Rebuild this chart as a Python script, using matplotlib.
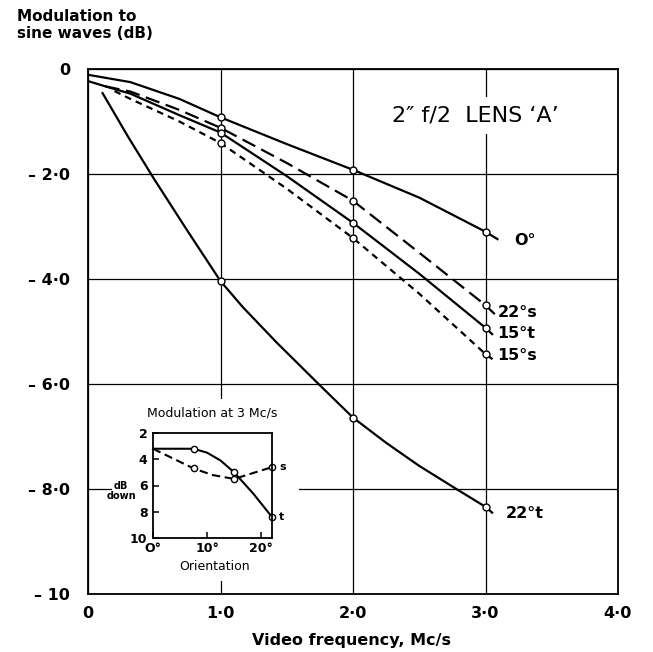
import matplotlib
matplotlib.use("Agg")
import matplotlib.pyplot as plt
from matplotlib.patches import Rectangle

# main chart: curves (video frequency Mc/s, modulation dB)
freq_0 = [0.0, 0.32, 0.69, 1.0, 1.5, 2.0, 2.5, 3.0, 3.09]
db_0 = [-0.11, -0.25, -0.57, -0.92, -1.43, -1.92, -2.45, -3.10, -3.24]

freq_22s = [0.13, 0.32, 0.69, 1.0, 1.5, 2.0, 2.5, 3.0, 3.07]
db_22s = [-0.33, -0.43, -0.78, -1.12, -1.79, -2.51, -3.50, -4.50, -4.67]

freq_15t = [0.0, 0.13, 0.32, 0.69, 1.0, 1.5, 2.0, 2.5, 3.0, 3.05]
db_15t = [-0.23, -0.33, -0.47, -0.88, -1.21, -2.04, -2.93, -3.90, -4.93, -5.05]

freq_15s = [0.2, 0.32, 0.69, 1.0, 1.5, 2.0, 2.5, 3.0, 3.06]
db_15s = [-0.42, -0.57, -1.00, -1.41, -2.28, -3.22, -4.28, -5.43, -5.54]

freq_22t = [0.11, 0.3, 0.5, 0.75, 1.0, 1.17, 1.42, 1.74, 2.0, 2.25, 2.5, 2.78,
            3.0, 3.05]
db_22t = [-0.46, -1.28, -2.1, -3.08, -4.04, -4.54, -5.2, -6.0, -6.64, -7.12,
          -7.56, -8.0, -8.34, -8.45]

measured_freq = [1.0, 2.0, 3.0]

x_ticks = [0, 1, 2, 3, 4]
x_labels = ["0", "1·0", "2·0", "3·0", "4·0"]
y_ticks = [0, -2, -4, -6, -8, -10]
y_labels = ["0", "– 2·0", "– 4·0", "– 6·0", "– 8·0", "– 10"]

# inset: modulation at 3 Mc/s against orientation (dB down)
orient_t = [0, 7.5, 10, 12.5, 15, 18.5, 22]
down_t = [3.2, 3.2, 3.5, 4.1, 5.0, 6.6, 8.4]
orient_s = [0, 7.5, 11, 15, 22]
down_s = [3.2, 4.7, 5.2, 5.5, 4.6]
inset_measured = [7.5, 15, 22]

plt.rcParams['font.family'] = ['DejaVu Sans']

W, H = 653, 652
fig = plt.figure(figsize=(W / 100, H / 100), dpi=100)
ax = fig.add_axes([88 / W, 1 - 594 / H, (618 - 88) / W, (594 - 69) / H])
ax.set_xlim(0, 4)
ax.set_ylim(-10, 0)
ax.set_xticks(x_ticks)
ax.set_xticklabels(x_labels, fontweight='bold')
ax.set_yticks(y_ticks)
ax.set_yticklabels(y_labels, fontweight='bold')
ax.tick_params(length=0, labelsize=11.5)
ax.tick_params(axis='x', pad=9)
ax.tick_params(axis='y', pad=13)
ax.grid(True, color='black', lw=0.9)
for sp in ax.spines.values():
    sp.set_linewidth(1.3)


def marks(xs):
    return [i for i, x in enumerate(xs) if x in measured_freq]


style = dict(color='black', lw=1.6, marker='o', ms=5, mfc='white',
             mec='black', mew=1.0, zorder=3)
ax.plot(freq_0, db_0, markevery=marks(freq_0), **style)
ax.plot(freq_22s, db_22s, markevery=marks(freq_22s), dashes=(6.5, 3.0),
        **style)
ax.plot(freq_15t, db_15t, markevery=marks(freq_15t), **style)
ax.plot(freq_15s, db_15s, markevery=marks(freq_15s), dashes=(3.0, 2.3),
        **style)
ax.plot(freq_22t, db_22t, markevery=marks(freq_22t), **style)

lab = dict(fontsize=11.5, fontweight='bold', va='center', ha='left')
ax.text(3.22, -3.26, "O°", **lab)
ax.text(3.09, -4.64, "22°s", **lab)
ax.text(3.09, -5.04, "15°t", **lab)
ax.text(3.09, -5.46, "15°s", **lab)
ax.text(3.15, -8.47, "22°t", **lab)

ax.text(2.92, -0.88, "2″ f/2  LENS ‘A’", fontsize=16, ha='center',
        va='center', zorder=4,
        bbox=dict(facecolor='white', edgecolor='none', pad=6))

fig.text(17 / W, 1 - 9 / H, "Modulation to\nsine waves (dB)", ha='left',
         va='top', fontsize=11, fontweight='bold', linespacing=1.15)
fig.text(352 / W, 1 - 641 / H, "Video frequency, Mc/s", ha='center',
         va='center', fontsize=11.5, fontweight='bold')

# white area hiding the grid behind the inset
fig.add_artist(Rectangle((112 / W, 1 - 581 / H), (299 - 112) / W,
                         (581 - 399) / H, transform=fig.transFigure,
                         facecolor='white', edgecolor='none', zorder=2))

ins = fig.add_axes([153 / W, 1 - 538 / H, 119 / W, 105 / H])
ins.set_zorder(3)
ins.set_xlim(0, 22)
ins.set_ylim(10, 2)
ins.set_xticks([0, 10, 20])
ins.set_xticklabels(["O°", "10°", "20°"], fontweight='bold')
ins.set_yticks([2, 4, 6, 8, 10])
ins.set_yticklabels(["2", "4", "6", "8", "10"], fontweight='bold')
ins.tick_params(direction='in', length=4, width=1.1, labelsize=9)
ins.tick_params(axis='x', pad=3)
ins.tick_params(axis='y', pad=4)
for sp in ins.spines.values():
    sp.set_linewidth(1.3)

mt = [i for i, o in enumerate(orient_t) if o in inset_measured]
ms_ = [i for i, o in enumerate(orient_s) if o in inset_measured]
ins.plot(orient_t, down_t, color='black', lw=1.5, marker='o', ms=4.5,
         mfc='white', mec='black', mew=1.0, markevery=mt, clip_on=False)
ins.plot(orient_s, down_s, color='black', lw=1.5, marker='o', ms=4.5,
         mfc='white', mec='black', mew=1.0, markevery=ms_, dashes=(4, 2.2),
         clip_on=False)
ins.text(23.3, down_s[-1], "s", fontsize=8, fontweight='bold', va='center')
ins.text(23.3, down_t[-1], "t", fontsize=8, fontweight='bold', va='center')

fig.text(212 / W, 1 - 413 / H, "Modulation at 3 Mc/s", ha='center',
         va='center', fontsize=9, zorder=4)
fig.text(215 / W, 1 - 566 / H, "Orientation", ha='center', va='center',
         fontsize=9, zorder=4)
fig.text(121 / W, 1 - 491 / H, "dB\ndown", ha='center', va='center',
         fontsize=7, fontweight='bold', linespacing=0.9, zorder=4)

fig.savefig("out.png", dpi=100)
